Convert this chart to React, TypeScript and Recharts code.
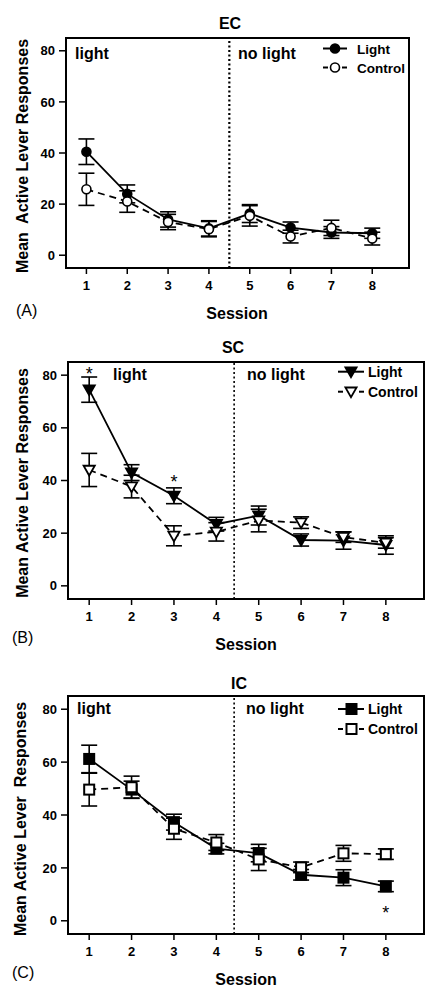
import { Customized, ErrorBar, Line, LineChart, ReferenceArea, ReferenceDot, ReferenceLine, XAxis, YAxis } from "recharts";

const sessions = [1, 2, 3, 4, 5, 6, 7, 8];
const yTicks = [0, 20, 40, 60, 80];

const ecLight = [40.5, 24, 14, 10.5, 16.3, 10.8, 8.9, 8.6];
const ecLightSem = [5, 3.5, 3, 3, 3.5, 2.2, 2.3, 2];
const ecControl = [25.8, 21, 13, 10.2, 15.4, 7.3, 10.7, 6.5];
const ecControlSem = [6.3, 4.2, 3, 3, 4, 2.5, 3, 2.5];

const scLight = [74.5, 43, 34.2, 23.4, 26.7, 17.4, 17.2, 15.5];
const scLightSem = [4.8, 3, 3, 2.6, 3.6, 2.3, 3.3, 3.5];
const scControl = [44, 37.7, 19, 20.5, 24.8, 24, 18.5, 16.3];
const scControlSem = [6.3, 4.3, 3.8, 3.5, 4.3, 2.2, 2, 2];

const icLight = [61.2, 49.6, 37.3, 27.3, 25.6, 17.4, 16.3, 13];
const icLightSem = [5.2, 3.2, 3, 2, 3.3, 2, 3, 2];
const icControl = [49.6, 50.5, 34.8, 29.6, 23.2, 20.2, 25.5, 25.2];
const icControlSem = [6.2, 4.2, 4, 3, 4.2, 2, 3, 2];

// significance stars: session and height (response units)
const scStars = [
  { session: 1, y: 82 },
  { session: 3, y: 41 },
];
const icStars = [{ session: 8, y: 4.3 }];

const font = '"Liberation Sans", Arial, Helvetica, sans-serif';

type Shape = "circle" | "triangle" | "square";

function Marker({ cx, cy, shape, filled }: { cx: number; cy: number; shape: Shape; filled: boolean }) {
  const fill = filled ? "#000" : "#fff";
  if (shape === "circle") {
    return <circle cx={cx} cy={cy} r={4.5} fill={fill} stroke="#000" strokeWidth={1.6} />;
  }
  if (shape === "triangle") {
    const s = 5.6;
    return (
      <polygon
        points={`${cx - s},${cy - s * 0.75} ${cx + s},${cy - s * 0.75} ${cx},${cy + s}`}
        fill={fill}
        stroke="#000"
        strokeWidth={1.8}
        strokeLinejoin="miter"
      />
    );
  }
  return <rect x={cx - 5} y={cy - 5} width={10} height={10} fill={fill} stroke="#000" strokeWidth={2} />;
}

type Layout = {
  height: number;
  left: number;
  right: number;
  top: number;
  bottom: number;
  divider: number;
  titleX: number;
  titleY: number;
  sessionX: number;
  sessionY: number;
  letterX: number;
  letterY: number;
  yLabelX: number;
  yLabelY: number;
  lightX: number;
  noLightX: number;
  phaseY: number;
  legLineX1: number;
  legLineX2: number;
  legMarkX: number;
  legTextX: number;
  legY1: number;
  legY2: number;
  legFont: number;
  dividerWidth: number;
};

type PanelProps = {
  title: string;
  letter: string;
  yLabel: string;
  light: number[];
  lightSem: number[];
  control: number[];
  controlSem: number[];
  shape: Shape;
  stars: { session: number; y: number }[];
  layout: Layout;
};

function Panel({ title, letter, yLabel, light, lightSem, control, controlSem, shape, stars, layout: L }: PanelProps) {
  const data = sessions.map((s, i) => ({
    session: s,
    light: light[i],
    lightErr: lightSem[i],
    control: control[i],
    controlErr: controlSem[i],
  }));
  const xAxisH = 30;
  const txt = { fontFamily: font, fill: "#000" };

  const overlay = () => (
    <g>
      <text x={L.titleX} y={L.titleY} textAnchor="middle" fontSize={16} fontWeight="bold" {...txt}>
        {title}
      </text>
      <text x={L.sessionX} y={L.sessionY} textAnchor="middle" fontSize={16} fontWeight="bold" {...txt}>
        Session
      </text>
      <text x={L.letterX} y={L.letterY} fontSize={16} {...txt}>
        {letter}
      </text>
      <text
        x={L.yLabelX}
        y={L.yLabelY}
        transform={`rotate(-90 ${L.yLabelX} ${L.yLabelY})`}
        textAnchor="middle"
        fontSize={16}
        fontWeight="bold"
        style={{ whiteSpace: "pre" }}
        {...txt}
      >
        {yLabel}
      </text>
      <text x={L.lightX} y={L.phaseY} fontSize={16} fontWeight="bold" {...txt}>
        light
      </text>
      <text x={L.noLightX} y={L.phaseY} fontSize={16} fontWeight="bold" {...txt}>
        no light
      </text>
      <line x1={L.legLineX1} x2={L.legLineX2} y1={L.legY1} y2={L.legY1} stroke="#000" strokeWidth={2} />
      <Marker cx={L.legMarkX} cy={L.legY1} shape={shape} filled />
      <text x={L.legTextX} y={L.legY1 + 5} fontSize={L.legFont} fontWeight="bold" {...txt}>
        Light
      </text>
      <line x1={L.legLineX1} x2={L.legLineX1 + 5} y1={L.legY2} y2={L.legY2} stroke="#000" strokeWidth={2} />
      <line x1={L.legLineX2 - 5} x2={L.legLineX2} y1={L.legY2} y2={L.legY2} stroke="#000" strokeWidth={2} />
      <Marker cx={L.legMarkX} cy={L.legY2} shape={shape} filled={false} />
      <text x={L.legTextX} y={L.legY2 + 5} fontSize={L.legFont} fontWeight="bold" {...txt}>
        Control
      </text>
    </g>
  );

  const tickStyle = { fontSize: 13, fontWeight: "bold", fill: "#000", fontFamily: font };

  return (
    <LineChart
      width={439}
      height={L.height}
      data={data}
      margin={{ top: L.top, right: 439 - L.right, bottom: L.height - L.bottom - xAxisH, left: 0 }}
    >
      <XAxis
        dataKey="session"
        type="number"
        domain={[0.5, 8.9]}
        ticks={sessions}
        allowDataOverflow
        height={xAxisH}
        tickSize={6}
        tickMargin={7}
        tick={tickStyle}
        stroke="#000"
        axisLine={{ stroke: "#000", strokeWidth: 2 }}
        tickLine={{ stroke: "#000", strokeWidth: 1.5 }}
      />
      <YAxis
        type="number"
        domain={[-5, 85]}
        ticks={yTicks}
        allowDataOverflow
        width={L.left}
        tickSize={7}
        tickMargin={4}
        tick={tickStyle}
        stroke="#000"
        axisLine={{ stroke: "#000", strokeWidth: 2 }}
        tickLine={{ stroke: "#000", strokeWidth: 1.5 }}
      />
      <ReferenceArea x1={0.5} x2={8.9} y1={-5} y2={85} fill="none" stroke="#000" strokeWidth={2} ifOverflow="visible" />
      <ReferenceLine x={L.divider} stroke="#000" strokeWidth={L.dividerWidth} strokeDasharray="2 2.5" />
      <Line
        dataKey="light"
        stroke="#000"
        strokeWidth={1.8}
        isAnimationActive={false}
        dot={(p: any) => <Marker key={`l${p.index}`} cx={p.cx} cy={p.cy} shape={shape} filled />}
        activeDot={false}
      >
        <ErrorBar dataKey="lightErr" width={8} stroke="#000" strokeWidth={1.6} direction="y" isAnimationActive={false} />
      </Line>
      <Line
        dataKey="control"
        stroke="#000"
        strokeWidth={1.8}
        strokeDasharray="7 5"
        isAnimationActive={false}
        dot={(p: any) => <Marker key={`c${p.index}`} cx={p.cx} cy={p.cy} shape={shape} filled={false} />}
        activeDot={false}
      >
        <ErrorBar dataKey="controlErr" width={8} stroke="#000" strokeWidth={1.6} direction="y" isAnimationActive={false} />
      </Line>
      {stars.map((s) => (
        <ReferenceDot
          key={`s${s.session}`}
          x={s.session}
          y={s.y}
          r={0}
          ifOverflow="visible"
          shape={(p: any) => (
            <text x={p.cx} y={p.cy + 10} textAnchor="middle" fontSize={18} fontFamily={font} fill="#000">
              *
            </text>
          )}
        />
      ))}
      <Customized component={overlay} />
    </LineChart>
  );
}

const layoutA: Layout = {
  height: 330,
  left: 66,
  right: 409,
  top: 38,
  bottom: 268,
  divider: 4.5,
  titleX: 230,
  titleY: 29,
  sessionX: 237,
  sessionY: 319,
  letterX: 16,
  letterY: 316,
  yLabelX: 28,
  yLabelY: 156,
  lightX: 75,
  noLightX: 238,
  phaseY: 58.5,
  legLineX1: 323,
  legLineX2: 347,
  legMarkX: 335,
  legTextX: 357,
  legY1: 48.5,
  legY2: 67.5,
  legFont: 13.5,
  dividerWidth: 2.2,
};

const layoutB: Layout = {
  height: 330,
  left: 68,
  right: 424,
  top: 32,
  bottom: 269,
  divider: 4.42,
  titleX: 233,
  titleY: 22.7,
  sessionX: 246,
  sessionY: 320,
  letterX: 12,
  letterY: 313,
  yLabelX: 27.5,
  yLabelY: 153,
  lightX: 113,
  noLightX: 247,
  phaseY: 49.5,
  legLineX1: 338,
  legLineX2: 364,
  legMarkX: 351,
  legTextX: 368,
  legY1: 41.7,
  legY2: 61.7,
  legFont: 14,
  dividerWidth: 1.6,
};

const layoutC: Layout = {
  height: 332,
  left: 68,
  right: 424,
  top: 36,
  bottom: 274,
  divider: 4.42,
  titleX: 239,
  titleY: 29.3,
  sessionX: 246,
  sessionY: 325,
  letterX: 12,
  letterY: 318,
  yLabelX: 26,
  yLabelY: 159,
  lightX: 77,
  noLightX: 246,
  phaseY: 54,
  legLineX1: 338,
  legLineX2: 364,
  legMarkX: 351.5,
  legTextX: 368,
  legY1: 49,
  legY2: 69,
  legFont: 14,
  dividerWidth: 1.6,
};

export default function App() {
  return (
    <div style={{ position: "absolute", left: 0, top: 0, width: 439, height: 992, background: "#fff" }}>
      <Panel
        title="EC"
        letter="(A)"
        yLabel={"Mean  Active Lever Responses"}
        light={ecLight}
        lightSem={ecLightSem}
        control={ecControl}
        controlSem={ecControlSem}
        shape="circle"
        stars={[]}
        layout={layoutA}
      />
      <Panel
        title="SC"
        letter="(B)"
        yLabel="Mean Active Lever Responses"
        light={scLight}
        lightSem={scLightSem}
        control={scControl}
        controlSem={scControlSem}
        shape="triangle"
        stars={scStars}
        layout={layoutB}
      />
      <Panel
        title="IC"
        letter="(C)"
        yLabel={"Mean Active Lever  Responses"}
        light={icLight}
        lightSem={icLightSem}
        control={icControl}
        controlSem={icControlSem}
        shape="square"
        stars={icStars}
        layout={layoutC}
      />
    </div>
  );
}
